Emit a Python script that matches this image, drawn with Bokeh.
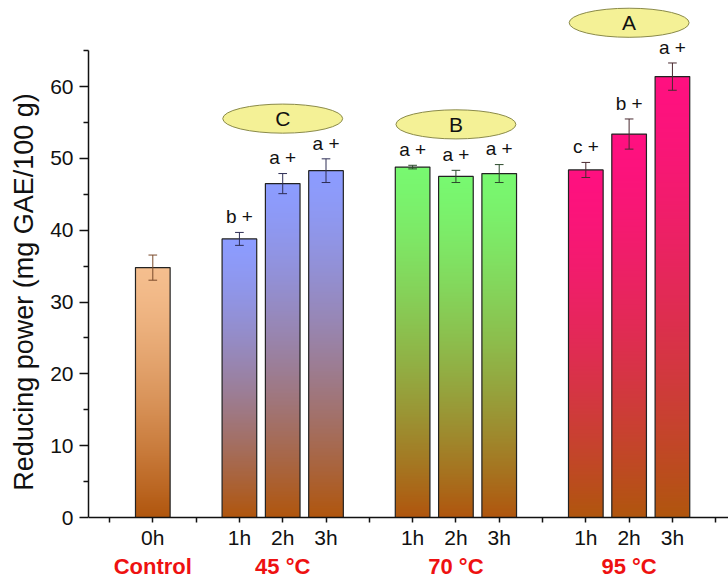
import numpy as np
from bokeh.plotting import figure
from bokeh.models import ColumnDataSource, FixedTicker, Range1d
from bokeh.core.properties import value
from bokeh.embed import file_html
from bokeh.resources import INLINE

# ---------------- data ----------------
group_names = ["Control", "45 °C", "70 °C", "95 °C"]
group_times = [["0h"], ["1h", "2h", "3h"], ["1h", "2h", "3h"], ["1h", "2h", "3h"]]
means = [34.8, 38.8, 46.5, 48.3, 48.8, 47.5, 47.9, 48.4, 53.4, 61.4]
errors = [1.75, 0.9, 1.4, 1.65, 0.25, 0.85, 1.25, 1.05, 2.1, 1.9]
letters = ["", "b +", "a +", "a +", "a +", "a +", "a +", "c +", "b +", "a +"]
group_letters = ["", "C", "B", "A"]
y_ticks = [0, 10, 20, 30, 40, 50, 60]

# ---------------- styles ----------------
FONT = "Liberation Sans"
top_colors = ["#F5BE8E", "#8C9CFF", "#78F870", "#FF1080"]
bottom_color = "#B0560E"
err_colors = ["#7a4a2a", "#2e2e55", "#2c4a2c", "#4a2a30"]
BAR_W = 0.8

# positions: one empty slot between groups
xs, gidx, tlabels = [], [], []
pos = 0
group_centers = []
for g, times in enumerate(group_times):
    start = pos
    for t in times:
        xs.append(pos)
        gidx.append(g)
        tlabels.append(t)
        pos += 1
    group_centers.append((start + pos - 1) / 2)
    pos += 1

xs = np.array(xs, dtype=float)
means_a = np.array(means)
errs_a = np.array(errors)


def hex2rgb(h):
    h = h.lstrip("#")
    return np.array([int(h[i:i + 2], 16) for i in (0, 2, 4)], dtype=float)


def gradient(top_hex, bot_hex, n=256):
    top = hex2rgb(top_hex)
    bot = hex2rgb(bot_hex)
    s = np.linspace(0, 1, n)          # 0 = bottom row, 1 = top row
    d = (1 - s) ** 1.4                # distance from top, eased
    rgb = top[None, :] * (1 - d[:, None]) + bot[None, :] * d[:, None]
    img = np.empty((n, 1), dtype=np.uint32)
    v = img.view(dtype=np.uint8).reshape((n, 1, 4))
    v[:, 0, 0] = rgb[:, 0].round().astype(np.uint8)
    v[:, 0, 1] = rgb[:, 1].round().astype(np.uint8)
    v[:, 0, 2] = rgb[:, 2].round().astype(np.uint8)
    v[:, 0, 3] = 255
    return img


p = figure(width=728, height=583, output_backend="svg", toolbar_location=None,
           x_range=Range1d(-1.485, 13.295), y_range=Range1d(-9.19, 72.0),
           min_border_left=88, min_border_right=0, min_border_top=0, min_border_bottom=0)
p.outline_line_color = None
p.xgrid.visible = False
p.ygrid.visible = False
p.background_fill_color = "white"

# gradient bars
imgs = [gradient(top_colors[g], bottom_color) for g in gidx]
p.image_rgba(image=imgs, x=list(xs - BAR_W / 2), y=[0] * len(xs),
             dw=[BAR_W] * len(xs), dh=list(means_a))
# bar outlines
p.vbar(x=xs, top=means_a, width=BAR_W, bottom=0, fill_color=None,
       line_color="#222222", line_width=1.2)

# error bars
ecol = [err_colors[g] for g in gidx]
up = means_a + errs_a
lo = means_a - errs_a
esrc = ColumnDataSource(dict(x=xs, up=up, lo=lo, xl=xs - 0.1, xr=xs + 0.1, c=ecol))
p.segment(x0="x", x1="x", y0="lo", y1="up", line_color="c", line_width=1, source=esrc)
p.segment(x0="xl", x1="xr", y0="up", y1="up", line_color="c", line_width=1, source=esrc)
p.segment(x0="xl", x1="xr", y0="lo", y1="lo", line_color="c", line_width=1, source=esrc)

# significance letters
p.text(x=xs, y=up + 2.2, text=letters, text_align="center", text_baseline="middle",
       text_font=value(FONT), text_font_size="19px", text_color="#111111")

# group ellipses
ex, ey, et = [], [], []
for g, lab in enumerate(group_letters):
    if not lab:
        continue
    sel = np.array(gidx) == g
    ex.append(group_centers[g])
    ey.append(up[sel].max() + 5.6)
    et.append(lab)
p.ellipse(x=ex, y=ey, width=2.77, height=4.05, fill_color="#F4F196",
          line_color="#8a8a4a", line_width=1)
p.text(x=ex, y=ey, text=et, text_align="center", text_baseline="middle",
       text_font=value(FONT), text_font_size="21px", text_color="#111111")

# group labels (below the time labels)
p.text(x=group_centers, y=[-6.85] * len(group_centers), text=group_names,
       text_align="center", text_baseline="middle", text_font=value(FONT),
       text_font_style="bold", text_font_size="22px", text_color="#EE1111")

# y axis
yax = p.yaxis[0]
yax.bounds = (0, 65)
yax.ticker = FixedTicker(ticks=y_ticks, minor_ticks=[5, 15, 25, 35, 45, 55, 65])
yax.axis_label = "Reducing power (mg GAE/100 g)"
yax.axis_label_text_font = FONT
yax.axis_label_text_font_style = "normal"
yax.axis_label_text_font_size = "27px"
yax.axis_label_text_color = "#111111"
yax.axis_label_standoff = 8
yax.major_label_text_font = FONT
yax.major_label_text_font_size = "21px"
yax.major_label_text_color = "#111111"
yax.major_label_standoff = 6
yax.axis_line_width = 1.5
yax.axis_line_color = "#111111"
yax.major_tick_out = 9
yax.major_tick_in = 0
yax.minor_tick_out = 5
yax.minor_tick_in = 0
yax.major_tick_line_width = 1.5
yax.minor_tick_line_width = 1.5
yax.major_tick_line_color = "#111111"
yax.minor_tick_line_color = "#111111"

# x axis (time labels), drawn at y = 0 inside the frame
xax = p.xaxis[0]
xax.fixed_location = 0
all_ticks = list(range(-1, int(xs.max()) + 2))
xax.ticker = FixedTicker(ticks=all_ticks)
overrides = {t: "" for t in all_ticks}
for x, t in zip(xs, tlabels):
    overrides[int(x)] = t
xax.major_label_overrides = overrides
xax.major_label_text_font = FONT
xax.major_label_text_font_size = "21px"
xax.major_label_text_color = "#111111"
xax.major_label_standoff = 3
xax.major_tick_out = 5
xax.major_tick_in = 0
xax.minor_tick_line_color = None
xax.axis_line_width = 1.5
xax.axis_line_color = "#111111"
xax.major_tick_line_width = 1.5
xax.major_tick_line_color = "#111111"

open("out.html", "w").write(file_html(p, INLINE))
